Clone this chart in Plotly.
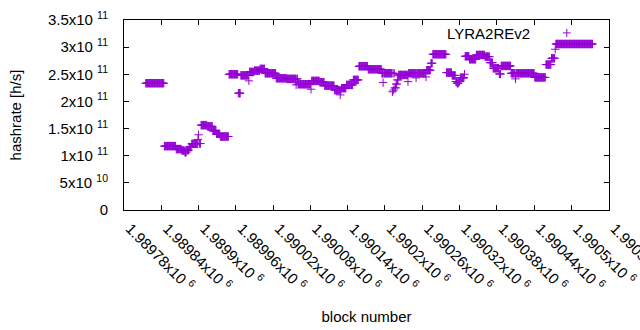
import plotly.graph_objects as go

# run-length data: each run starts at block run_start[i] and lasts until the next run start
run_start = [
    1989815, 1989845, 1989864, 1989873, 1989878, 1989881, 1989885, 1989889, 1989899, 1989900,
    1989901, 1989904, 1989914, 1989923, 1989929, 1989935, 1989949, 1989964, 1989968, 1989981,
    1989982, 1989990, 1989999, 1990007, 1990025, 1990042, 1990057, 1990058, 1990060, 1990081,
    1990082, 1990095, 1990103, 1990119, 1990128, 1990129, 1990130, 1990138, 1990149, 1990158,
    1990173, 1990195, 1990197, 1990198, 1990212, 1990213, 1990214, 1990215, 1990216, 1990218,
    1990220, 1990222, 1990237, 1990238, 1990250, 1990251, 1990266, 1990267, 1990274, 1990277,
    1990299, 1990308, 1990314, 1990316, 1990319, 1990321, 1990328, 1990329, 1990336, 1990347,
    1990361, 1990369, 1990374, 1990384, 1990387, 1990403, 1990410, 1990411, 1990441, 1990459,
    1990468, 1990474, 1990475,
]
run_value_ghs = [
    233.6, 117.7, 112.2, 109.6, 106.3, 110.3, 115.8, 121.9, 130.0, 138.6,
    122.5, 156.3, 154.1, 145.8, 140.3, 135.4, 250.1, 215.2, 248.0, 237.9,
    254.3, 256.7, 259.9, 251.9, 242.7, 241.5, 230.4, 241.5, 231.7, 222.5,
    237.8, 235.4, 229.1, 220.7, 212.0, 220.7, 224.4, 230.4, 239.6, 264.8,
    259.3, 251.9, 234.7, 251.9, 217.8, 251.9, 221.0, 251.9, 225.0, 232.0,
    239.6, 248.8, 236.5, 251.9, 243.3, 251.9, 245.1, 257.5, 270.3, 286.9,
    253.1, 247.9, 236.5, 233.6, 236.5, 243.5, 250.1, 283.2, 277.7, 285.6,
    282.5, 271.4, 261.1, 250.7, 265.4, 251.9, 241.5, 251.9, 244.2, 267.9,
    279.5, 296.1, 305.8,
]
last_block_end = 1990535

x_tickvals = [1989780, 1989840, 1989900, 1989960, 1990020, 1990080, 1990140,
              1990200, 1990260, 1990320, 1990380, 1990440, 1990500, 1990560]
x_ticktext = ["1.98978", "1.98984", "1.9899", "1.98996", "1.99002", "1.99008", "1.99014",
              "1.9902", "1.99026", "1.99032", "1.99038", "1.99044", "1.9905", "1.99056"]
y_tickvals = [0, 5e10, 1e11, 1.5e11, 2e11, 2.5e11, 3e11, 3.5e11]
y_ticktext = ["0", "5x10", "1x10", "1.5x10", "2x10", "2.5x10", "3x10", "3.5x10"]
y_exp = ["", "10", "11", "11", "11", "11", "11", "11"]
series_name = "LYRA2REv2"

blocks, values = [], []
ends = run_start[1:] + [last_block_end]
for s, e, v in zip(run_start, ends, run_value_ghs):
    for b in range(s, e):
        blocks.append(b)
        values.append(v * 1e9)

COLOR = "#9400D3"
FONT = "Liberation Sans, Arial, sans-serif"

fig = go.Figure()
fig.add_trace(go.Scatter(
    x=blocks, y=values, mode="markers",
    marker=dict(symbol="cross-thin", size=6, color=COLOR,
                line=dict(color=COLOR, width=1)),
    showlegend=False, cliponaxis=False, hoverinfo="skip",
))

ytext = [t if not e else f"{t} <sup>{e}</sup>" for t, e in zip(y_ticktext, y_exp)]
xtext = [f"{t}x10 <sup>6</sup>" for t in x_ticktext]

axis_common = dict(showline=True, linecolor="black", linewidth=1, mirror="allticks",
                   ticks="inside", ticklen=5, tickcolor="black", showgrid=False,
                   zeroline=False, automargin=False, ticklabeloverflow="allow",
                   tickfont=dict(family=FONT, size=15, color="black"))

fig.update_xaxes(range=[1989780, 1990560.5], tickmode="array", tickvals=x_tickvals,
                 ticktext=xtext, tickangle=45, ticklabelshift=6, ticklabelstandoff=3,
                 title=dict(text="block number", font=dict(family=FONT, size=15, color="black"),
                            standoff=17),
                 **axis_common)
fig.update_yaxes(range=[0, 3.5e11], tickmode="array", tickvals=y_tickvals,
                 ticktext=ytext,
                 title=dict(text="hashrate [h/s]", font=dict(family=FONT, size=15, color="black"),
                            standoff=22),
                 ticklabelstandoff=12,
                 **axis_common)

fig.add_annotation(xref="paper", yref="paper", x=0.842, y=0.93, xanchor="right",
                   yanchor="middle", text=series_name, showarrow=False,
                   font=dict(family=FONT, size=15, color="black"))
kx, ky = 0.913, 0.932
fig.add_shape(type="line", xref="paper", yref="paper", xsizemode="pixel", ysizemode="pixel",
              xanchor=kx, yanchor=ky, x0=-4, x1=4, y0=0, y1=0,
              line=dict(color=COLOR, width=1))
fig.add_shape(type="line", xref="paper", yref="paper", xsizemode="pixel", ysizemode="pixel",
              xanchor=kx, yanchor=ky, x0=0, x1=0, y0=-4, y1=4,
              line=dict(color=COLOR, width=1))

fig.update_layout(width=640, height=330, plot_bgcolor="white", paper_bgcolor="white",
                  margin=dict(l=124, r=31, t=20, b=120), font=dict(family=FONT, size=15))

fig.write_html("out.html", config={"displayModeBar": False},
               post_script="document.body.style.margin='0';")
